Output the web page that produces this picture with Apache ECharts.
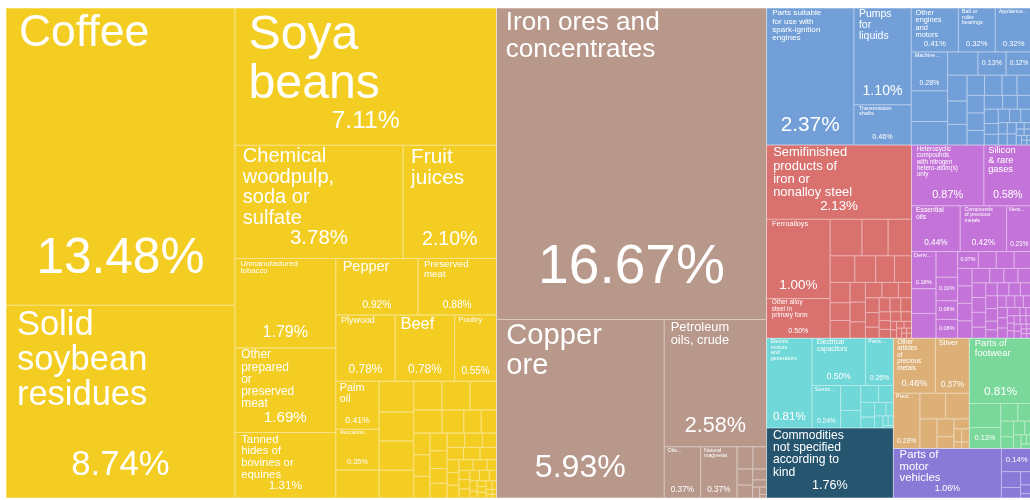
<!DOCTYPE html>
<html>
<head>
<meta charset="utf-8">
<title>Export treemap</title>
<script src="https://cdn.jsdelivr.net/npm/echarts@6/dist/echarts.min.js"></script>
<style>
  html, body { margin: 0; padding: 0; background: #ffffff; }
  #chart { width: 1030px; height: 500px; }
</style>
</head>
<body>
<div id="chart"></div>
<script>
// Export shares (% of total). Unnamed entries are small products drawn without a label;
// an empty name means only the share is printed.
// Equal shares are laid out in reverse list order, so ties are listed right-to-left.

const agriNames = ['Coffee', 'Solid soybean residues', 'Soya beans', 'Chemical woodpulp, soda or sulfate',
  'Fruit juices', 'Unmanufactured tobacco', 'Other prepared or preserved meat',
  'Tanned hides of bovines or equines', 'Pepper', 'Preserved meat', 'Beef', 'Plywood', 'Poultry',
  'Palm oil', 'Avocados, pineapples, guavas, mangoes and mangosteens, fresh or dried'];
const agriShares = [13.48, 8.74, 7.11, 3.78, 2.10, 1.79, 1.69, 1.31, 0.92, 0.88, 0.78, 0.78, 0.55, 0.41, 0.35,
  0.24, 0.21, 0.20, 0.20, 0.19, 0.16, 0.16, 0.15, 0.13, 0.10, 0.08, 0.07, 0.07, 0.07, 0.07, 0.06, 0.06,
  0.05, 0.05, 0.05, 0.05, 0.04, 0.04, 0.04, 0.04, 0.03, 0.03, 0.03, 0.03, 0.03, 0.02, 0.02, 0.02, 0.02,
  0.02, 0.02, 0.015, 0.015, 0.01, 0.01, 0.01, 0.01, 0.01, 0.008, 0.006, 0.005, 0.004, 0.003];

const mineralNames = ['Iron ores and concentrates', 'Copper ore', 'Petroleum oils, crude',
  'Natural magnesia', 'Oils and other products of the distillation of high temperature coal tar'];
const mineralShares = [16.67, 5.93, 2.58, 0.37, 0.37, 0.07, 0.06, 0.05, 0.04, 0.03, 0.02, 0.015, 0.01, 0.005];

const machineNames = ['Parts suitable for use with spark-ignition engines', 'Pumps for liquids',
  'Transmission shafts', 'Other engines and motors', 'Appliances for pipes, boiler shells, tanks and vats',
  'Ball or roller bearings', 'Machine parts and accessories, not elsewhere specified', null, null, null, '', ''];
const machineShares = [2.37, 1.10, 0.46, 0.41, 0.32, 0.32, 0.28, 0.22, 0.17, 0.14, 0.13, 0.12,
  0.10, 0.09, 0.08, 0.07, 0.07, 0.06, 0.06, 0.06, 0.06, 0.05, 0.05, 0.04, 0.04, 0.04, 0.03, 0.03,
  0.03, 0.03, 0.03, 0.02, 0.02, 0.02, 0.02, 0.01, 0.01, 0.01, 0.01, 0.01, 0.005, 0.005, 0.005, 0.005];

const metalNames = ['Semifinished products of iron or nonalloy steel', 'Ferroalloys',
  'Other alloy steel in primary form'];
const metalShares = [2.13, 1.00, 0.50, 0.23, 0.19, 0.17, 0.13, 0.11, 0.10, 0.09, 0.08, 0.07, 0.07,
  0.06, 0.06, 0.05, 0.05, 0.05, 0.04, 0.04, 0.04, 0.03, 0.03, 0.03, 0.03, 0.02, 0.02, 0.02, 0.02,
  0.02, 0.01, 0.01, 0.01, 0.01, 0.01, 0.005, 0.005, 0.005, 0.005];

const chemicalNames = ['Heterocyclic compounds with nitrogen hetero-atom(s) only', 'Silicon & rare gases',
  'Essential oils', 'Compounds of precious metals', 'New pneumatic tires, of rubber',
  'Derivatives of phenols or phenol-alcohols', null, null, null, '', '', '', ''];
const chemicalShares = [0.87, 0.58, 0.44, 0.42, 0.23, 0.18, 0.12, 0.12, 0.11, 0.10, 0.08, 0.08, 0.07,
  0.06, 0.06, 0.06, 0.05, 0.05, 0.05, 0.05, 0.05, 0.04, 0.04, 0.04, 0.04, 0.04, 0.04, 0.03, 0.03,
  0.03, 0.03, 0.03, 0.03, 0.03, 0.02, 0.02, 0.02, 0.02, 0.02, 0.02, 0.02, 0.02, 0.02, 0.02,
  0.01, 0.01, 0.01, 0.01, 0.01, 0.01, 0.01, 0.01, 0.01, 0.01, 0.005, 0.005, 0.005, 0.005, 0.005, 0.005];

const electronicNames = ['Electric motors and generators', 'Electrical capacitors',
  'Parts of electrical apparatus for switching or protecting circuits',
  'Semiconductor devices and light-emitting diodes'];
const electronicShares = [0.81, 0.50, 0.26, 0.24, 0.10, 0.07, 0.06, 0.05, 0.04, 0.03, 0.03, 0.02, 0.02,
  0.01, 0.01, 0.005];

const otherNames = ['Commodities not specified according to kind'];
const otherShares = [1.76];

const preciousNames = ['Other articles of precious metals', 'Silver', 'Precious stones, worked or unworked'];
const preciousShares = [0.46, 0.37, 0.29, 0.13, 0.12, 0.10, 0.06, 0.04, 0.03, 0.02, 0.02, 0.01, 0.01];

const textileNames = ['Parts of footwear', null, ''];
const textileShares = [0.81, 0.15, 0.13, 0.06, 0.05, 0.04, 0.03, 0.03, 0.02, 0.02, 0.01, 0.01, 0.01];

const vehicleNames = ['Parts of motor vehicles', ''];
const vehicleShares = [1.06, 0.14, 0.06, 0.04, 0.03, 0.02, 0.01];

const groups = [
  { title: 'Vegetable and food products', names: agriNames, values: agriShares },
  { title: 'Minerals', names: mineralNames, values: mineralShares },
  { title: 'Machinery', names: machineNames, values: machineShares },
  { title: 'Metals', names: metalNames, values: metalShares },
  { title: 'Chemicals', names: chemicalNames, values: chemicalShares },
  { title: 'Electronics', names: electronicNames, values: electronicShares },
  { title: 'Not classified', names: otherNames, values: otherShares },
  { title: 'Precious metals and stones', names: preciousNames, values: preciousShares },
  { title: 'Footwear and textiles', names: textileNames, values: textileShares },
  { title: 'Transportation', names: vehicleNames, values: vehicleShares }
];

// Colour of each product community, same order as the groups.
const groupColors = ['#f4cd23', '#b8988b', '#729fd8', '#d9716f', '#c474d8',
  '#70d8d8', '#26566f', '#dcb077', '#79d89a', '#8a7ad8'];

const FONT = '"Liberation Sans", Arial, Helvetica, sans-serif';
const MIN_FONT = 5.3;
const measureCtx = document.createElement('canvas').getContext('2d');
function textWidth(s, size) {
  measureCtx.font = size + 'px ' + FONT;
  return measureCtx.measureText(s).width;
}
function wrapWords(words, size, maxW) {
  const lines = [];
  let cur = '';
  words.forEach(w => {
    const test = cur ? cur + ' ' + w : w;
    if (!cur || textWidth(test, size) <= maxW) cur = test;
    else { lines.push(cur); cur = w; }
  });
  if (cur) lines.push(cur);
  return lines;
}
function shareText(v) { return v.toFixed(2) + '%'; }

const tokenBase = { color: '#ffffff', fontFamily: FONT, textBorderWidth: 0 };

// Share-only label, centred in the cell.
function shareOnly(value, W, H) {
  const fp = Math.min(0.254 * W, 0.35 * H);
  if (fp < 5) return { show: false };
  const pad = Math.max((H - 1 - fp) / 2 - 0.4, 0);
  return {
    show: true, position: 'insideTopLeft', distance: 0, padding: [pad, 0, pad, 0],
    formatter: '{p|' + shareText(value) + '}',
    rich: { p: Object.assign({ fontSize: fp, lineHeight: fp, align: 'center' }, tokenBase) }
  };
}

// Name in the top-left corner, share centred along the bottom; sizes follow the cell.
function cellLabel(name, value, W, H) {
  if (name === null || W < 12 || H < 10) return { show: false };
  if (name === '') return shareOnly(value, W, H);
  const words = name.split(' ');
  const longest = Math.max.apply(null, words.map(w => textWidth(w, 100) / 100));
  const sidePad = f => Math.min(3.5 + 0.2 * f, 0.08 * W);
  const wrapAt = f => wrapWords(words, f, Math.max(0.575 * W, longest * f));
  let fn = Math.max(Math.min(0.57 * W / longest, 80), MIN_FONT);
  let fp = Math.min(0.18 * H, 0.254 * W, 0.19 * Math.sqrt(W * H));
  if (fp < 4.5) return shareOnly(value, W, H);
  const padBottom = () => 0.41 * fp;
  const fits = (f, ls) => 0.05 * f + ls.length * 1.02 * f + fp + padBottom() + 1.5 <= H;
  let lines = null;
  let ok = false;
  for (; fn >= MIN_FONT; fn -= 0.25) {
    if (longest * fn > W - 2 * sidePad(fn)) continue;
    lines = wrapAt(fn);
    if (fits(fn, lines)) { ok = true; break; }
  }
  if (ok) {
    // A marginally smaller size that saves a line reads better.
    for (let f2 = fn - 0.25; f2 >= Math.max(0.95 * fn, MIN_FONT); f2 -= 0.25) {
      const l2 = wrapAt(f2);
      if (l2.length < lines.length && fits(f2, l2)) { fn = f2; lines = l2; break; }
    }
  } else {
    // Too small for the whole name: keep its first word, cut with an ellipsis.
    fn = 5.5;
    lines = [words[0].replace(/[,;:]$/, '') + '...'];
    if (!fits(fn, lines)) return shareOnly(value, W, H);
  }
  const padX = sidePad(fn);
  fp = Math.min(fp, (W - 2 * padX - 1) / 2.9);
  const padTop = 0.05 * fn;
  const textH = H - 1 - padTop - padBottom();
  const spacer = Math.max(textH - lines.length * 1.02 * fn - fp - 0.6, 0.01);
  return {
    show: true, position: 'insideTopLeft', distance: 0,
    padding: [padTop, padX, padBottom(), padX],
    formatter: lines.map(l => '{n|' + l + '}').join('\n') + '\n{s| }\n{p|' + shareText(value) + '}',
    rich: {
      n: Object.assign({ fontSize: fn, lineHeight: 1.02 * fn }, tokenBase),
      s: Object.assign({ fontSize: 1, lineHeight: spacer, height: spacer }, tokenBase),
      p: Object.assign({ fontSize: fp, lineHeight: fp, align: 'center' }, tokenBase)
    }
  };
}

function buildOption(labels) {
  return {
    animation: false,
    backgroundColor: '#ffffff',
    series: [{
      type: 'treemap',
      left: 6, top: 8, width: 1026, height: 490,
      squareRatio: 1.035,
      sort: 'desc',
      roam: false,
      nodeClick: false,
      breadcrumb: { show: false },
      label: { show: false, overflow: 'truncate', ellipsis: '...' },
      upperLabel: { show: false },
      emphasis: { disabled: true },
      levels: [
        { itemStyle: { borderWidth: 0, gapWidth: 0, borderColor: '#ffffff' } },
        { itemStyle: { borderWidth: 0, gapWidth: 0 } },
        { itemStyle: { borderWidth: 0.5, gapWidth: 0, borderColor: 'rgba(255,255,255,0.55)' } }
      ],
      data: groups.map((g, gi) => ({
        name: g.title,
        itemStyle: { color: groupColors[gi], borderColor: groupColors[gi] },
        children: g.values.map((v, i) => {
          const item = { name: g.names[i] || '', value: v };
          if (labels) item.label = labels[gi][i];
          return item;
        })
      }))
    }]
  };
}

const chart = echarts.init(document.getElementById('chart'), null, { renderer: 'canvas' });
chart.setOption(buildOption(null));

// Size each label from the cell that the treemap layout produced.
const tree = chart.getModel().getSeriesByIndex(0).getData().tree;
const labels = groups.map((g, gi) => g.values.map((v, i) => {
  const node = tree.root.children[gi].children[i];
  const lay = node && node.getLayout();
  if (!lay) return { show: false };
  const name = g.names[i] === undefined ? null : g.names[i];
  return cellLabel(name, v, lay.width, lay.height);
}));
chart.setOption(buildOption(labels), true);
</script>
</body>
</html>
